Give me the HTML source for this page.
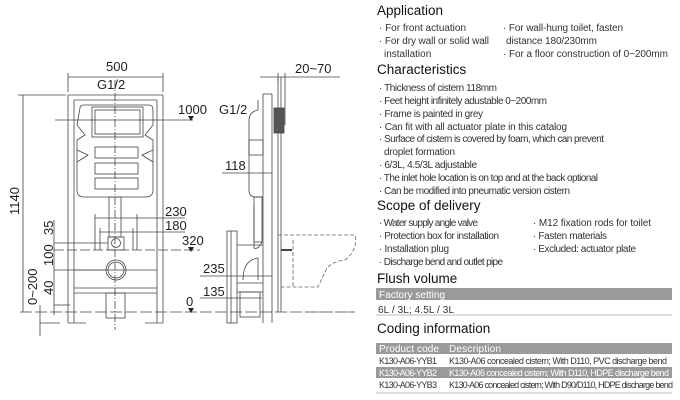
<!DOCTYPE html>
<html><head><meta charset="utf-8"><style>
html,body{margin:0;padding:0;background:#fff;width:680px;height:400px;overflow:hidden}
svg{display:block}
.d{font-family:"Liberation Sans",sans-serif;font-size:13px;fill:#222}
.h{font-family:"Liberation Sans",sans-serif;font-size:13.5px;fill:#111}
.b{font-family:"Liberation Sans",sans-serif;font-size:10px;fill:#333}
.w{font-family:"Liberation Sans",sans-serif;font-size:10px;fill:#fff}
.t{font-family:"Liberation Sans",sans-serif;font-size:9px;fill:#333}
.tw{font-family:"Liberation Sans",sans-serif;font-size:9px;fill:#fff}
</style></head><body>
<svg width="680" height="400" viewBox="0 0 680 400" xmlns="http://www.w3.org/2000/svg">
<g stroke="#444" stroke-width="0.8" fill="none">
<line x1="68" y1="95" x2="68" y2="323"/><line x1="74" y1="100" x2="74" y2="323"/>
<line x1="157" y1="100" x2="157" y2="323"/><line x1="163" y1="95" x2="163" y2="323"/>
<line x1="68" y1="95" x2="163" y2="95"/><line x1="74" y1="100" x2="157" y2="100"/>
<line x1="68" y1="323" x2="86" y2="323"/><line x1="145" y1="323" x2="163" y2="323"/>
<line x1="74" y1="270" x2="157" y2="270"/><line x1="74" y1="288" x2="157" y2="288"/><line x1="74" y1="293" x2="157" y2="293"/>
<path d="M80 108 Q80 105 84 105 L149 105 Q153 105 153 110 L153 125 L145 135 L153 140 L153 190 Q153 197 146 197 L84 197 Q77 197 77 190 L77 140 L85 135 L77 125 Z"/>
<rect x="92" y="107" width="51" height="30"/><rect x="95" y="110" width="45" height="24"/>
<rect x="95" y="147" width="43" height="11"/><rect x="95" y="163" width="43" height="11"/><rect x="95" y="178" width="43" height="11"/>
<path d="M77 150 L88 155 L77 162 M153 150 L142 155 L153 162"/>
<rect x="109" y="197" width="12" height="40"/><rect x="108" y="237" width="16" height="13"/>
<circle cx="116" cy="243" r="4.5"/>
<circle cx="116" cy="270" r="10"/><circle cx="116" cy="270" r="8"/>
<rect x="106" y="293" width="19" height="25"/>
<line x1="115" y1="80" x2="115" y2="330" stroke-dasharray="8 2 1 2"/>
<line x1="68" y1="77" x2="163" y2="77"/><line x1="68" y1="73" x2="68" y2="92"/><line x1="163" y1="73" x2="163" y2="92"/>
<line x1="23" y1="95" x2="23" y2="312"/><line x1="18" y1="95" x2="66" y2="95"/>
<line x1="55" y1="120" x2="193" y2="120"/>
<line x1="95" y1="218" x2="137" y2="218"/><line x1="95" y1="214" x2="95" y2="250"/><line x1="137" y1="214" x2="137" y2="250"/>
<line x1="100" y1="232" x2="133" y2="232"/><line x1="100" y1="228" x2="100" y2="250"/><line x1="133" y1="228" x2="133" y2="250"/>
<line x1="137" y1="218" x2="185" y2="218"/><line x1="133" y1="232" x2="185" y2="232"/>
<line x1="54" y1="243" x2="108" y2="243"/>
<line x1="54" y1="250" x2="200" y2="250" stroke-dasharray="10 3"/>
<line x1="54" y1="270" x2="106" y2="270"/><line x1="54" y1="305" x2="70" y2="305"/>
<line x1="54" y1="220" x2="54" y2="315"/><line x1="40" y1="305" x2="40" y2="336"/>
<line x1="20" y1="312" x2="355" y2="312" stroke-dasharray="12 3"/>
<line x1="40" y1="323" x2="60" y2="323"/>
<line x1="263" y1="94" x2="263" y2="323"/><line x1="272" y1="94" x2="272" y2="323"/><line x1="263" y1="94" x2="272" y2="94"/>
<line x1="278" y1="77" x2="278" y2="312"/><line x1="281" y1="77" x2="281" y2="312"/>
<rect x="274" y="108" width="10" height="25" fill="#555"/>
<path d="M258 100 L258 110 Q249 112 249 120 L249 190 Q249 197 256 197 L263 197"/>
<rect x="249" y="140" width="14" height="15"/>
<rect x="254" y="197" width="8" height="45"/>
<path d="M262 242 Q258 250 254 248 L254 205"/>
<rect x="227" y="231" width="10" height="92"/><line x1="231" y1="231" x2="231" y2="323"/>
<path d="M237 245 L263 245 M237 283 L263 283 M237 292 L263 292"/>
<path d="M243 280 Q243 260 258 258 L258 280"/>
<rect x="240" y="292" width="20" height="25"/>
<line x1="281" y1="250" x2="292" y2="250" stroke-width="2"/>
<g stroke-dasharray="4 2" stroke="#666">
<path d="M278 235 L355 235 Q358 250 345 260 Q330 262 326 270 L318 287 L278 287"/>
<line x1="293" y1="240" x2="293" y2="287"/>
<line x1="305" y1="312" x2="355" y2="312"/>
</g>
<line x1="260" y1="77" x2="340" y2="77"/><line x1="278" y1="73" x2="278" y2="82"/><line x1="285" y1="73" x2="285" y2="125"/>
<line x1="222" y1="173" x2="272" y2="173"/>
<line x1="200" y1="276" x2="272" y2="276"/>
<line x1="200" y1="298" x2="262" y2="298"/>
</g>
<g class="d">
<text x="106" y="71">500</text>
<text x="97" y="89">G1/2</text>
<text x="178" y="114">1000</text>
<text x="165" y="216">230</text>
<text x="165" y="230">180</text>
<text x="182" y="245">320</text>
<text x="186" y="306">0</text>
<text x="295" y="73">20~70</text>
<text x="219" y="114">G1/2</text>
<text x="225" y="170">118</text>
<text x="203" y="273">235</text>
<text x="203" y="296">135</text>
<text transform="translate(19 215) rotate(-90)">1140</text>
<text transform="translate(53 235) rotate(-90)">35</text>
<text transform="translate(53 266) rotate(-90)">100</text>
<text transform="translate(53 295) rotate(-90)">40</text>
<text transform="translate(37 305) rotate(-90)">0~200</text>
</g>
<g fill="#222"><path d="M188 116 L194 116 L191 121Z M188 247 L194 247 L191 252Z M188 308 L194 308 L191 313Z"/></g>
<g class="h">
<text x="377" y="15">Application</text>
<text x="377" y="74">Characteristics</text>
<text x="377" y="210">Scope of delivery</text>
<text x="377" y="283">Flush volume</text>
<text x="377" y="333">Coding information</text>
</g>
<g class="b">
<text x="379" y="31" textLength="87">· For front actuation</text>
<text x="379" y="44" textLength="110">· For dry wall or solid wall</text>
<text x="384" y="57">installation</text>
<text x="503" y="31" textLength="120">· For wall-hung toilet, fasten</text>
<text x="506" y="44" textLength="91">distance 180/230mm</text>
<text x="503" y="57" textLength="165">· For a floor construction of 0~200mm</text>
<text x="379" y="91" textLength="118">· Thickness of cistern 118mm</text>
<text x="379" y="104" textLength="168">· Feet height infinitely adustable 0~200mm</text>
<text x="379" y="117" textLength="104">· Frame is painted in grey</text>
<text x="379" y="130" textLength="188">· Can fit with all actuator plate in this catalog</text>
<text x="379" y="142" textLength="225">· Surface of cistern is covered by foam, which can prevent</text>
<text x="384" y="155" textLength="71">droplet formation</text>
<text x="379" y="168" textLength="98">· 6/3L, 4.5/3L adjustable</text>
<text x="379" y="181" textLength="219">· The inlet hole location is on top and at the back optional</text>
<text x="379" y="194" textLength="191">· Can be modified into pneumatic version cistern</text>
<text x="379" y="226" textLength="99">· Water supply angle valve</text>
<text x="379" y="239" textLength="120">· Protection box for installation</text>
<text x="379" y="252" textLength="70">· Installation plug</text>
<text x="379" y="265" textLength="124">· Discharge bend and outlet pipe</text>
<text x="533" y="226" textLength="118">· M12 fixation rods for toilet</text>
<text x="533" y="239" textLength="74">· Fasten materials</text>
<text x="533" y="252" textLength="103">· Excluded: actuator plate</text>
<text x="378" y="313" textLength="76">6L / 3L; 4.5L / 3L</text>
</g>
<rect x="376" y="288" width="296" height="12" fill="#9a9a9a"/>
<text class="w" x="379" y="298" textLength="66">Factory setting</text>
<line x1="376" y1="315" x2="672" y2="315" stroke="#bbb"/>
<rect x="376" y="343" width="296" height="11" fill="#9a9a9a"/>
<text class="w" x="379" y="352" textLength="60">Product code</text><text class="w" x="449" y="352" textLength="52">Description</text>
<rect x="376" y="367" width="296" height="11" fill="#9a9a9a"/>
<text class="t" x="379" y="364" textLength="58">K130-A06-YYB1</text><text class="t" x="449" y="364" textLength="218">K130-A06 concealed cistern; With D110, PVC discharge bend</text>
<text class="tw" x="379" y="376" textLength="58">K130-A06-YYB2</text><text class="tw" x="449" y="376" textLength="220">K130-A06 concealed cistern; With D110, HDPE discharge bend</text>
<text class="t" x="379" y="388" textLength="58">K130-A06-YYB3</text><text class="t" x="449" y="388" textLength="224">K130-A06 concealed cistern; With D90/D110, HDPE discharge bend</text>
<line x1="376" y1="393" x2="672" y2="393" stroke="#bbb"/>
</svg>
</body></html>
